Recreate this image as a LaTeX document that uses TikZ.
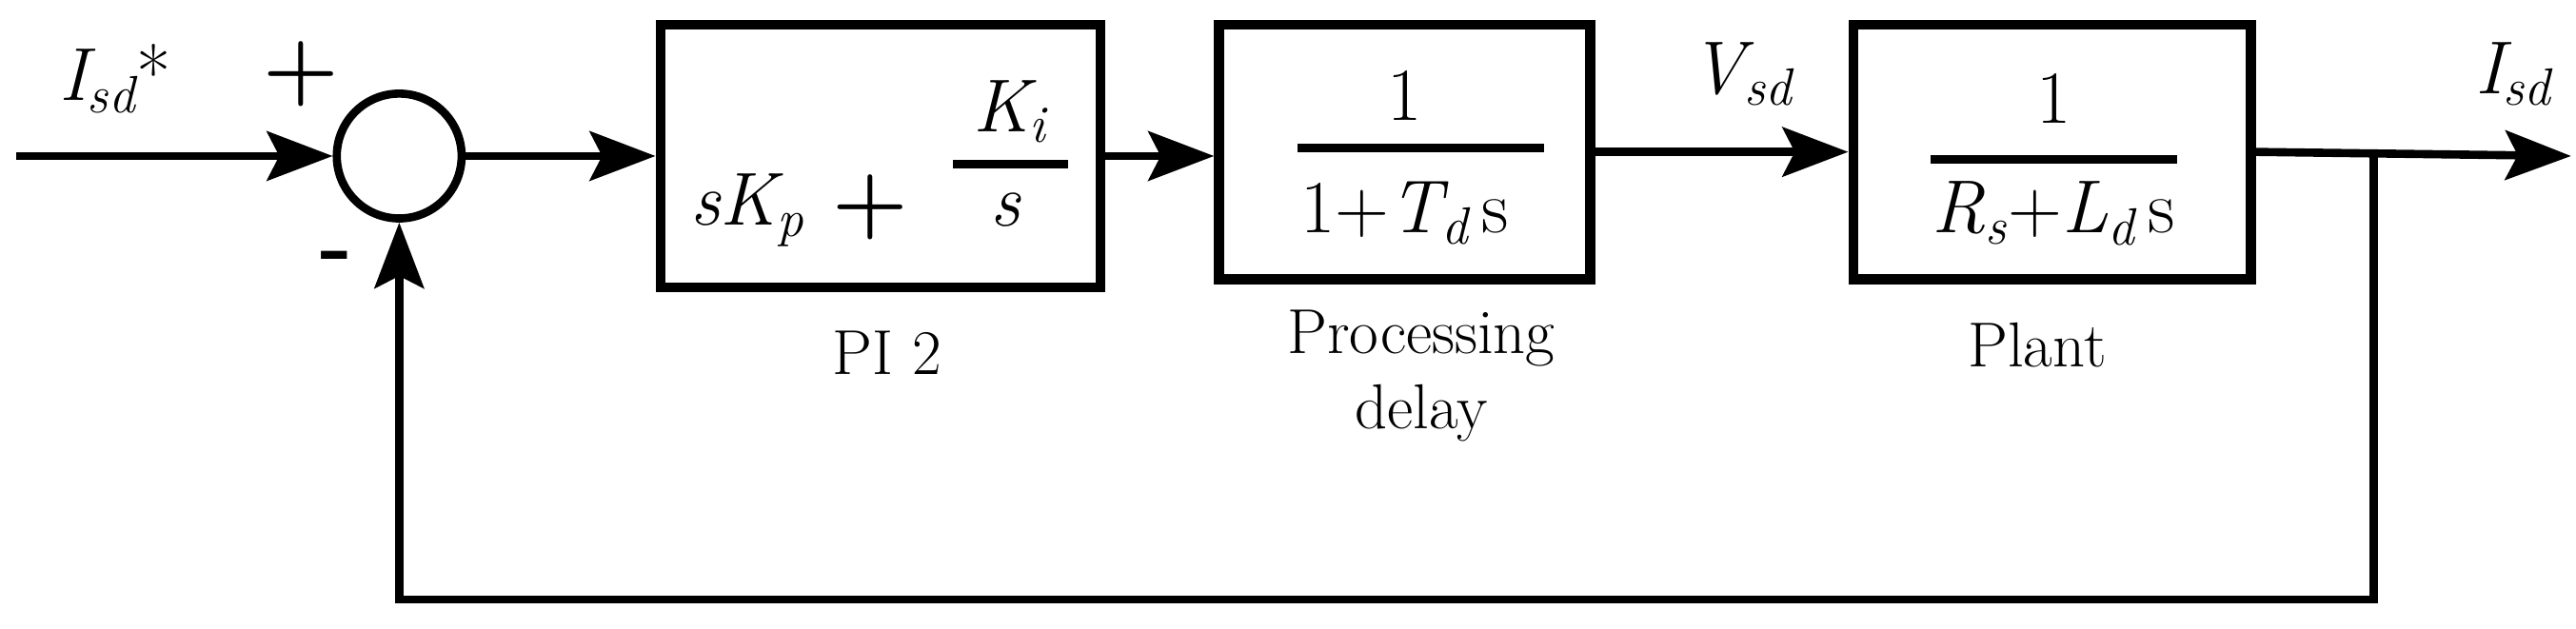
\documentclass[tikz,border=0pt]{standalone}
\usetikzlibrary{arrows.meta}
\begin{document}
\begin{tikzpicture}[x=0.02cm,y=-0.02cm,
  ln/.style={line width=5*0.02cm},
  bx/.style={draw,line width=6*0.02cm,inner sep=0pt},
  ar/.style={ln,-{Stealth[length=0.8cm,width=0.6cm,inset=0.15cm]}},
  lab/.style={font=\fontsize{22}{26}\selectfont,align=center},
  mt/.style={font=\fontsize{26}{30}\selectfont\itshape,inner sep=0pt},
  up/.style={font=\fontsize{26}{30}\selectfont\upshape,inner sep=0pt},
  fl/.style={line width=5*0.02cm}]
\useasboundingbox (0,0) rectangle (1568,383);
\node[draw,circle,ln,minimum size=76*0.02cm,inner sep=0pt] (c) at (243,95) {};
\node[bx,minimum width=268*0.02cm,minimum height=160*0.02cm] (pi) at (536,95) {};
\node[bx,minimum width=226*0.02cm,minimum height=155*0.02cm] (pd) at (855,92.5) {};
\node[bx,minimum width=242*0.02cm,minimum height=155*0.02cm] (pl) at (1249,92.5) {};
\coordinate (in) at (10,95);
\coordinate (out) at (1565,95);
\coordinate (br) at (1445,95);
\coordinate (b1) at (1445,365);
\coordinate (b2) at (243,365);
\draw[ar] (in) -- (c.west);
\draw[ar] (c.east) -- (pi.west);
\draw[ar] (pi.east) -- (pi.east -| pd.west);
\draw[ar] (pd.east) -- (pd.east -| pl.west);
\draw[ar] (pl.east) -- (out);
\draw[ar] (br) -- (b1) -- (b2) -- (c.south);
% labels
\node[mt] (l1) at (70,48) {I\textsubscript{sd}\upshape *};
\node[lab,font=\fontsize{30}{30}\selectfont\bfseries] (p) at (183,45) {+};
\node[lab,font=\fontsize{30}{30}\selectfont\bfseries] (m) at (205,160) {-};
\node[mt] (l2) at (1060,45) {V\textsubscript{sd}};
\node[mt] (l3) at (1530,45) {I\textsubscript{sd}};
% PI box content
\node[mt] (a1) at (455,128) {sK\textsubscript{p}};
\node[lab,font=\fontsize{30}{30}\selectfont\bfseries] (a2) at (530,126) {+};
\node[mt] (a3) at (615,68) {K\textsubscript{i}};
\node[mt] (a4) at (612,128) {s};
\coordinate (f1a) at (580,100); \coordinate (f1b) at (650,100);
\draw[fl] (f1a) -- (f1b);
% delay
\node[up] (d1) at (855,58) {1};
\node[up] (d2) at (855,130) {1+\textit{T\textsubscript{d}}\,s};
\coordinate (f2a) at (790,90); \coordinate (f2b) at (940,90);
\draw[fl] (f2a) -- (f2b);
% plant
\node[up] (e1) at (1250,60) {1};
\node[up] (e2) at (1250,130) {\textit{R\textsubscript{s}}+\textit{L\textsubscript{d}}\,s};
\coordinate (f3a) at (1175,97); \coordinate (f3b) at (1325,97);
\draw[fl] (f3a) -- (f3b);
% captions
\node[lab] (t1) at (540,215) {PI 2};
\node[lab,text depth=0pt] (t2) at (865,225) {Processing\\delay};
\node[lab] (t3) at (1240,210) {Plant};
\end{tikzpicture}
\end{document}
